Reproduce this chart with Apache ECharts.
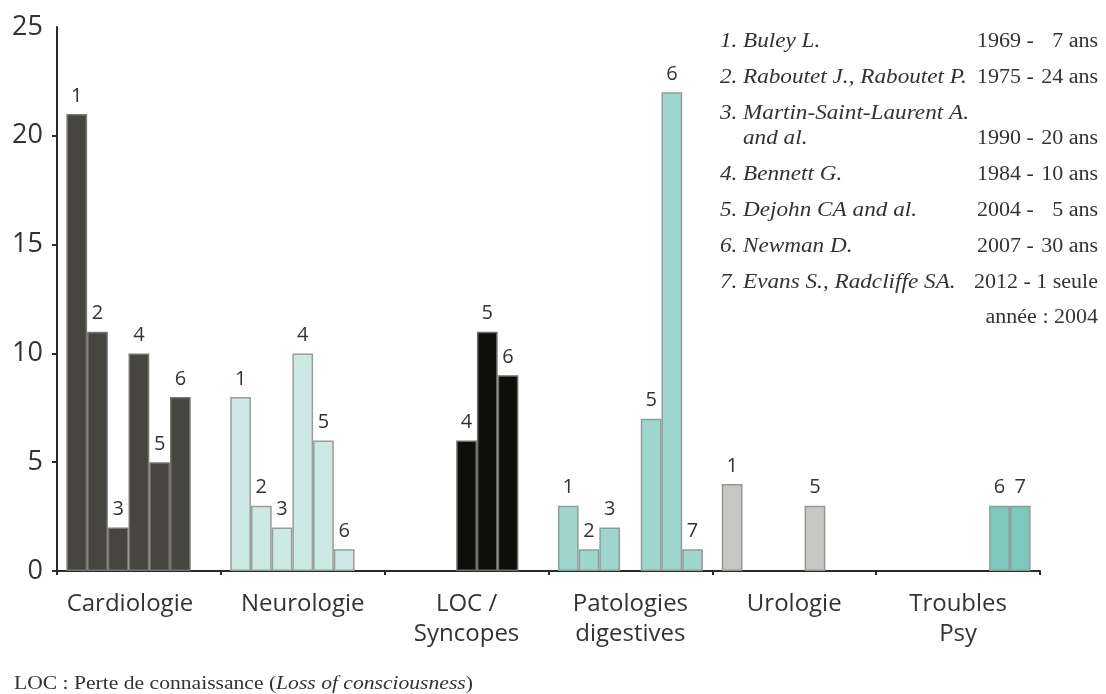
<!DOCTYPE html>
<html>
<head>
<meta charset="utf-8">
<script src="https://cdn.jsdelivr.net/npm/echarts@6/dist/echarts.min.js"></script>
<style>
html,body{margin:0;padding:0;background:#fff;}
#c{width:1106px;height:694px;}
</style>
</head>
<body>
<div id="c"></div>
<script>
// Categories (x axis)
const categories = ['Cardiologie', 'Neurologie', 'LOC /\nSyncopes', 'Patologies\ndigestives', 'Urologie', 'Troubles\nPsy'];
// Study numbers (series)
const studies = ['1', '2', '3', '4', '5', '6', '7'];
// Values per study, per category (null = no bar)
const study1 = [21, 8, null, 3, 4, null];
const study2 = [11, 3, null, 1, null, null];
const study3 = [2, 2, null, 2, null, null];
const study4 = [10, 10, 6, null, null, null];
const study5 = [5, 6, 11, 7, 3, null];
const study6 = [8, 1, 9, 22, null, 3];
const study7 = [null, null, null, 1, null, 3];
const yTicks = [0, 5, 10, 15, 20, 25];

// Legend of studies
const refNums = ['1.', '2.', '3.', '', '4.', '5.', '6.', '7.', ''];
const refNames = ['Buley L.', 'Raboutet J., Raboutet P.', 'Martin-Saint-Laurent A.', 'and al.', 'Bennett G.', 'Dejohn CA and al.', 'Newman D.', 'Evans S., Radcliffe SA.', ''];
const refYears = ['1969 -', '1975 -', '', '1990 -', '1984 -', '2004 -', '2007 -', '', ''];
const refDur = ['7 ans', '24 ans', '', '20 ans', '10 ans', '5 ans', '30 ans', '2012 - 1 seule', 'année : 2004'];

// Styling (per category)
const catColors = ['#474540', '#cde9e4', '#0e0e0b', '#9ed6cd', '#c7c8c3', '#7dc7bc'];
const catBorders = ['#76756f', '#9b9c97', '#6e6e69', '#8f9d99', '#959691', '#8a9d99'];

const allStudies = [study1, study2, study3, study4, study5, study6, study7];

const series = allStudies.map((vals, si) => ({
  name: studies[si],
  type: 'bar',
  barGap: 0,
  barCategoryGap: '11.5%',
  data: vals.map((v, ci) => v === null ? null : {
    value: v,
    itemStyle: { color: catColors[ci], borderColor: catBorders[ci], borderWidth: 1.5 }
  }),
  label: {
    show: true,
    position: 'top',
    distance: 8,
    formatter: (p) => p.seriesName,
    fontFamily: 'Open Sans',
    fontSize: 20,
    color: '#333'
  },
  animation: false
}));

const rowY = [42, 78, 114, 139, 175, 211, 247, 283, 318];
const serif = '"Liberation Serif", "Times New Roman", serif';
const graphics = [];
function txt(x, y, text, italic, align, sx) {
  graphics.push({
    type: 'text', x: x, y: y, scaleX: sx, scaleY: 1,
    style: { text: text, x: 0, y: 0, font: (italic ? 'italic ' : '') + '20px ' + serif, fill: '#333', align: align, verticalAlign: 'middle' }
  });
}
rowY.forEach((y, i) => {
  if (refNums[i]) txt(720, y, refNums[i], true, 'left', 1.16);
  if (refNames[i]) txt(743, y, refNames[i], true, 'left', 1.16);
  if (refYears[i]) txt(977, y, refYears[i], false, 'left', 1.1);
  if (refDur[i]) txt(1098, y, refDur[i], false, 'right', 1.1);
});
graphics.push({
  type: 'text', x: 14, y: 684, scaleX: 1.2, scaleY: 1,
  style: {
    x: 0, y: 0, verticalAlign: 'middle',
    rich: {
      n: { fontFamily: serif, fontSize: 18, fill: '#333', color: '#333' },
      i: { fontFamily: serif, fontSize: 18, fontStyle: 'italic', fill: '#333', color: '#333' }
    },
    text: '{n|LOC : Perte de connaissance (}{i|Loss of consciousness}{n|)}'
  }
});

const chart = echarts.init(document.getElementById('c'), null, { renderer: 'canvas' });
chart.setOption({
  animation: false,
  backgroundColor: '#fff',
  grid: { left: 57, right: 66, top: 27, bottom: 123, containLabel: false },
  xAxis: {
    type: 'category',
    data: categories,
    axisLine: { lineStyle: { color: '#2a2a2a', width: 2 } },
    axisTick: { show: true, length: 4, lineStyle: { color: '#2a2a2a', width: 2 } },
    axisLabel: {
      fontFamily: 'Open Sans', fontSize: 24, color: '#333', lineHeight: 30, margin: 18, interval: 0,
      formatter: (v, i) => i === 0 ? '{a|' + v + '}' : v,
      rich: { a: { fontFamily: 'Open Sans', fontSize: 24, color: '#333', lineHeight: 30, padding: [0, 18, 0, 0] } }
    }
  },
  yAxis: {
    type: 'value',
    min: yTicks[0],
    max: yTicks[yTicks.length - 1],
    interval: 5,
    splitLine: { show: false },
    axisLine: { show: true, lineStyle: { color: '#2a2a2a', width: 2 } },
    axisTick: { show: true, length: 5, lineStyle: { color: '#2a2a2a', width: 2 }, customValues: yTicks.slice(0, -1) },
    axisLabel: { fontFamily: 'Open Sans', fontSize: 27, color: '#333', margin: 14 }
  },
  series: series,
  graphic: graphics
});
</script>
</body>
</html>
